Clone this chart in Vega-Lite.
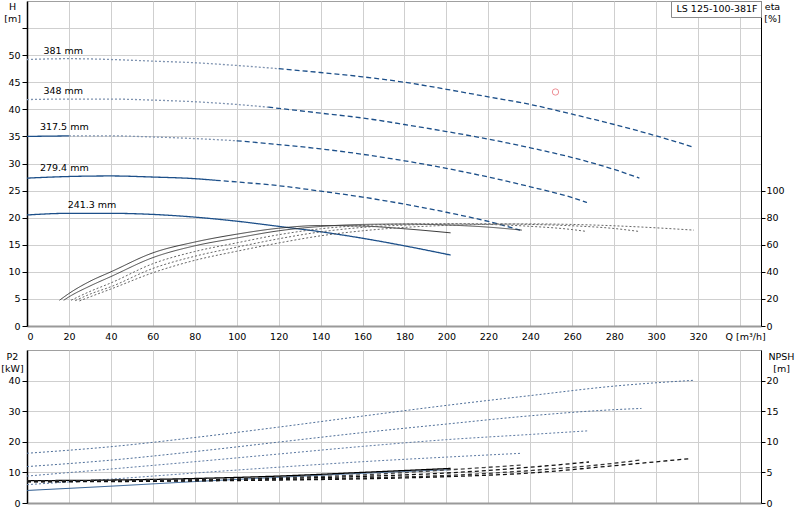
{
  "$schema": "https://vega.github.io/schema/vega-lite/v6.json",
  "padding": {"left": 0, "top": 0, "right": 0, "bottom": 0},
  "config": {
    "font": "DejaVu Sans",
    "view": {"stroke": "#a0a0a0"},
    "concat": {"spacing": 8},
    "axis": {
      "labelFont": "DejaVu Sans", "labelFontSize": 9.5, "labelColor": "#000", "labelOverlap": false,
      "titleFont": "DejaVu Sans", "titleFontSize": 9.5, "titleFontWeight": "normal", "titleColor": "#000",
      "gridColor": "#cfcfcf", "tickColor": "#000", "domainColor": "#000"
    }
  },
  "datasets": {
    "hq": [
      {"d": "381", "range": "mid", "Q": 0, "H": 49.2}, {"d": "381", "range": "mid", "Q": 20, "H": 49.35},
      {"d": "381", "range": "mid", "Q": 40, "H": 49.2}, {"d": "381", "range": "mid", "Q": 60, "H": 48.9},
      {"d": "381", "range": "mid", "Q": 80, "H": 48.6}, {"d": "381", "range": "mid", "Q": 100, "H": 48.1},
      {"d": "381", "range": "mid", "Q": 120, "H": 47.5},
      {"d": "381", "range": "high", "Q": 120, "H": 47.5}, {"d": "381", "range": "high", "Q": 140, "H": 46.8},
      {"d": "381", "range": "high", "Q": 160, "H": 46.0}, {"d": "381", "range": "high", "Q": 180, "H": 45.0},
      {"d": "381", "range": "high", "Q": 200, "H": 43.7}, {"d": "381", "range": "high", "Q": 220, "H": 42.3},
      {"d": "381", "range": "high", "Q": 240, "H": 40.9}, {"d": "381", "range": "high", "Q": 260, "H": 39.1},
      {"d": "381", "range": "high", "Q": 280, "H": 37.2}, {"d": "381", "range": "high", "Q": 300, "H": 35.1},
      {"d": "381", "range": "high", "Q": 318, "H": 33.0},
      {"d": "348", "range": "mid", "Q": 0, "H": 41.8}, {"d": "348", "range": "mid", "Q": 20, "H": 41.9},
      {"d": "348", "range": "mid", "Q": 40, "H": 41.9}, {"d": "348", "range": "mid", "Q": 60, "H": 41.7},
      {"d": "348", "range": "mid", "Q": 80, "H": 41.4}, {"d": "348", "range": "mid", "Q": 100, "H": 40.9},
      {"d": "348", "range": "mid", "Q": 115, "H": 40.4},
      {"d": "348", "range": "high", "Q": 115, "H": 40.4}, {"d": "348", "range": "high", "Q": 140, "H": 39.3},
      {"d": "348", "range": "high", "Q": 160, "H": 38.4}, {"d": "348", "range": "high", "Q": 180, "H": 37.2},
      {"d": "348", "range": "high", "Q": 200, "H": 35.9}, {"d": "348", "range": "high", "Q": 220, "H": 34.5},
      {"d": "348", "range": "high", "Q": 240, "H": 32.9}, {"d": "348", "range": "high", "Q": 260, "H": 31.1},
      {"d": "348", "range": "high", "Q": 280, "H": 28.9}, {"d": "348", "range": "high", "Q": 292, "H": 27.3},
      {"d": "317.5", "range": "low", "Q": 0, "H": 35.0}, {"d": "317.5", "range": "low", "Q": 20, "H": 35.1},
      {"d": "317.5", "range": "mid", "Q": 20, "H": 35.1}, {"d": "317.5", "range": "mid", "Q": 40, "H": 35.1},
      {"d": "317.5", "range": "mid", "Q": 60, "H": 34.9}, {"d": "317.5", "range": "mid", "Q": 80, "H": 34.6},
      {"d": "317.5", "range": "mid", "Q": 100, "H": 34.2},
      {"d": "317.5", "range": "high", "Q": 100, "H": 34.2}, {"d": "317.5", "range": "high", "Q": 120, "H": 33.5},
      {"d": "317.5", "range": "high", "Q": 140, "H": 32.7}, {"d": "317.5", "range": "high", "Q": 160, "H": 31.7},
      {"d": "317.5", "range": "high", "Q": 180, "H": 30.5}, {"d": "317.5", "range": "high", "Q": 200, "H": 29.1},
      {"d": "317.5", "range": "high", "Q": 220, "H": 27.5}, {"d": "317.5", "range": "high", "Q": 240, "H": 25.7},
      {"d": "317.5", "range": "high", "Q": 260, "H": 23.7}, {"d": "317.5", "range": "high", "Q": 267, "H": 22.8},
      {"d": "279.4", "range": "low", "Q": 0, "H": 27.3}, {"d": "279.4", "range": "low", "Q": 20, "H": 27.6},
      {"d": "279.4", "range": "low", "Q": 40, "H": 27.7}, {"d": "279.4", "range": "low", "Q": 60, "H": 27.5},
      {"d": "279.4", "range": "low", "Q": 80, "H": 27.2}, {"d": "279.4", "range": "low", "Q": 90, "H": 26.9},
      {"d": "279.4", "range": "high", "Q": 90, "H": 26.9}, {"d": "279.4", "range": "high", "Q": 100, "H": 26.6},
      {"d": "279.4", "range": "high", "Q": 120, "H": 25.9}, {"d": "279.4", "range": "high", "Q": 140, "H": 24.9},
      {"d": "279.4", "range": "high", "Q": 160, "H": 23.8}, {"d": "279.4", "range": "high", "Q": 180, "H": 22.5},
      {"d": "279.4", "range": "high", "Q": 200, "H": 21.0}, {"d": "279.4", "range": "high", "Q": 220, "H": 19.3},
      {"d": "279.4", "range": "high", "Q": 236, "H": 17.6},
      {"d": "241.3", "range": "low", "Q": 0, "H": 20.5}, {"d": "241.3", "range": "low", "Q": 20, "H": 20.8},
      {"d": "241.3", "range": "low", "Q": 40, "H": 20.8}, {"d": "241.3", "range": "low", "Q": 60, "H": 20.6},
      {"d": "241.3", "range": "low", "Q": 80, "H": 20.1}, {"d": "241.3", "range": "low", "Q": 100, "H": 19.35},
      {"d": "241.3", "range": "low", "Q": 120, "H": 18.4}, {"d": "241.3", "range": "low", "Q": 140, "H": 17.4},
      {"d": "241.3", "range": "low", "Q": 160, "H": 16.2}, {"d": "241.3", "range": "low", "Q": 180, "H": 14.8},
      {"d": "241.3", "range": "low", "Q": 202, "H": 13.1}
    ],
    "hqlabels": [
      {"name": "381 mm", "Q": 17.3, "H": 50.8},
      {"name": "348 mm", "Q": 17.3, "H": 43.4},
      {"name": "317.5 mm", "Q": 17.8, "H": 36.7},
      {"name": "279.4 mm", "Q": 17.8, "H": 29.2},
      {"name": "241.3 mm", "Q": 31, "H": 22.3}
    ],
    "duty": [
      {"pump": "LS 125-100-381F", "Q": 252, "H": 43.2}
    ],
    "eta": [
      {"d": "241.3", "Q": 15.5, "eta": 19}, {"d": "241.3", "Q": 20, "eta": 24}, {"d": "241.3", "Q": 30, "eta": 33},
      {"d": "241.3", "Q": 40, "eta": 40}, {"d": "241.3", "Q": 60, "eta": 54}, {"d": "241.3", "Q": 80, "eta": 62},
      {"d": "241.3", "Q": 100, "eta": 67.8}, {"d": "241.3", "Q": 120, "eta": 72.2}, {"d": "241.3", "Q": 140, "eta": 74.2},
      {"d": "241.3", "Q": 160, "eta": 73.8}, {"d": "241.3", "Q": 180, "eta": 71.8}, {"d": "241.3", "Q": 202, "eta": 68.8},
      {"d": "279.4", "Q": 17.5, "eta": 19}, {"d": "279.4", "Q": 20, "eta": 21.5}, {"d": "279.4", "Q": 30, "eta": 29.5},
      {"d": "279.4", "Q": 40, "eta": 36.5}, {"d": "279.4", "Q": 60, "eta": 50.5}, {"d": "279.4", "Q": 80, "eta": 59.2},
      {"d": "279.4", "Q": 100, "eta": 65}, {"d": "279.4", "Q": 120, "eta": 70.3}, {"d": "279.4", "Q": 140, "eta": 73.5},
      {"d": "279.4", "Q": 160, "eta": 75}, {"d": "279.4", "Q": 180, "eta": 75.3}, {"d": "279.4", "Q": 200, "eta": 74.6},
      {"d": "279.4", "Q": 220, "eta": 73}, {"d": "279.4", "Q": 236, "eta": 70.8},
      {"d": "317.5", "Q": 21, "eta": 19}, {"d": "317.5", "Q": 30, "eta": 25.5}, {"d": "317.5", "Q": 40, "eta": 31.8},
      {"d": "317.5", "Q": 60, "eta": 46}, {"d": "317.5", "Q": 80, "eta": 55}, {"d": "317.5", "Q": 100, "eta": 61.4},
      {"d": "317.5", "Q": 120, "eta": 67.4}, {"d": "317.5", "Q": 140, "eta": 71.8}, {"d": "317.5", "Q": 160, "eta": 74.2},
      {"d": "317.5", "Q": 180, "eta": 75.3}, {"d": "317.5", "Q": 200, "eta": 75.5}, {"d": "317.5", "Q": 220, "eta": 75},
      {"d": "317.5", "Q": 240, "eta": 73.6}, {"d": "317.5", "Q": 260, "eta": 71.2}, {"d": "317.5", "Q": 267, "eta": 69.8},
      {"d": "348", "Q": 23, "eta": 18.7}, {"d": "348", "Q": 30, "eta": 23.5}, {"d": "348", "Q": 40, "eta": 29},
      {"d": "348", "Q": 60, "eta": 42.5}, {"d": "348", "Q": 80, "eta": 51.5}, {"d": "348", "Q": 100, "eta": 58.2},
      {"d": "348", "Q": 120, "eta": 64.4}, {"d": "348", "Q": 140, "eta": 69.5}, {"d": "348", "Q": 160, "eta": 72.8},
      {"d": "348", "Q": 180, "eta": 74.5}, {"d": "348", "Q": 200, "eta": 75.3}, {"d": "348", "Q": 220, "eta": 75.5},
      {"d": "348", "Q": 240, "eta": 75}, {"d": "348", "Q": 260, "eta": 74}, {"d": "348", "Q": 280, "eta": 72},
      {"d": "348", "Q": 292, "eta": 69.8},
      {"d": "381", "Q": 25, "eta": 18.5}, {"d": "381", "Q": 30, "eta": 21.5}, {"d": "381", "Q": 40, "eta": 27.3},
      {"d": "381", "Q": 60, "eta": 39.3}, {"d": "381", "Q": 80, "eta": 48.5}, {"d": "381", "Q": 100, "eta": 55.2},
      {"d": "381", "Q": 120, "eta": 61.3}, {"d": "381", "Q": 140, "eta": 66.6}, {"d": "381", "Q": 160, "eta": 70.3},
      {"d": "381", "Q": 180, "eta": 72.8}, {"d": "381", "Q": 200, "eta": 74.3}, {"d": "381", "Q": 220, "eta": 75.1},
      {"d": "381", "Q": 240, "eta": 75.4}, {"d": "381", "Q": 260, "eta": 75}, {"d": "381", "Q": 280, "eta": 74},
      {"d": "381", "Q": 300, "eta": 72.5}, {"d": "381", "Q": 318, "eta": 70.8}
    ],
    "p2": [
      {"d": "381", "Q": 0, "P2": 16.25}, {"d": "381", "Q": 40, "P2": 18.4}, {"d": "381", "Q": 80, "P2": 21.4},
      {"d": "381", "Q": 120, "P2": 24.8}, {"d": "381", "Q": 160, "P2": 28.4}, {"d": "381", "Q": 200, "P2": 31.9},
      {"d": "381", "Q": 240, "P2": 35.1}, {"d": "381", "Q": 280, "P2": 38.2}, {"d": "381", "Q": 318, "P2": 40.1},
      {"d": "348", "Q": 0, "P2": 11.9}, {"d": "348", "Q": 40, "P2": 14.0}, {"d": "348", "Q": 80, "P2": 16.8},
      {"d": "348", "Q": 120, "P2": 19.9}, {"d": "348", "Q": 160, "P2": 23.0}, {"d": "348", "Q": 200, "P2": 25.8},
      {"d": "348", "Q": 240, "P2": 28.5}, {"d": "348", "Q": 280, "P2": 30.5}, {"d": "348", "Q": 293, "P2": 30.9},
      {"d": "317.5", "Q": 0, "P2": 8.8}, {"d": "317.5", "Q": 40, "P2": 11.1}, {"d": "317.5", "Q": 80, "P2": 13.5},
      {"d": "317.5", "Q": 120, "P2": 16.0}, {"d": "317.5", "Q": 160, "P2": 18.5}, {"d": "317.5", "Q": 200, "P2": 20.7},
      {"d": "317.5", "Q": 240, "P2": 22.4}, {"d": "317.5", "Q": 268, "P2": 23.6},
      {"d": "279.4", "Q": 0, "P2": 6.0}, {"d": "279.4", "Q": 40, "P2": 7.8}, {"d": "279.4", "Q": 80, "P2": 9.8},
      {"d": "279.4", "Q": 120, "P2": 11.7}, {"d": "279.4", "Q": 160, "P2": 13.5}, {"d": "279.4", "Q": 200, "P2": 15.0},
      {"d": "279.4", "Q": 236, "P2": 16.25},
      {"d": "241.3", "Q": 0, "P2": 4.1}, {"d": "241.3", "Q": 40, "P2": 5.5}, {"d": "241.3", "Q": 80, "P2": 7.0},
      {"d": "241.3", "Q": 120, "P2": 8.4}, {"d": "241.3", "Q": 160, "P2": 9.7}, {"d": "241.3", "Q": 202, "P2": 10.9}
    ],
    "npsh": [
      {"d": "241.3", "Q": 0, "NPSH": 3.65}, {"d": "241.3", "Q": 40, "NPSH": 3.75}, {"d": "241.3", "Q": 80, "NPSH": 4.0},
      {"d": "241.3", "Q": 120, "NPSH": 4.4}, {"d": "241.3", "Q": 160, "NPSH": 5.0}, {"d": "241.3", "Q": 202, "NPSH": 5.65},
      {"d": "279.4", "Q": 0, "NPSH": 3.6}, {"d": "279.4", "Q": 40, "NPSH": 3.7}, {"d": "279.4", "Q": 80, "NPSH": 3.85},
      {"d": "279.4", "Q": 120, "NPSH": 4.15}, {"d": "279.4", "Q": 160, "NPSH": 4.6}, {"d": "279.4", "Q": 200, "NPSH": 5.4},
      {"d": "279.4", "Q": 236, "NPSH": 6.2},
      {"d": "317.5", "Q": 0, "NPSH": 3.55}, {"d": "317.5", "Q": 40, "NPSH": 3.6}, {"d": "317.5", "Q": 80, "NPSH": 3.75},
      {"d": "317.5", "Q": 120, "NPSH": 4.0}, {"d": "317.5", "Q": 160, "NPSH": 4.35}, {"d": "317.5", "Q": 200, "NPSH": 4.9},
      {"d": "317.5", "Q": 240, "NPSH": 5.85}, {"d": "317.5", "Q": 268, "NPSH": 6.7},
      {"d": "348", "Q": 0, "NPSH": 3.5}, {"d": "348", "Q": 40, "NPSH": 3.55}, {"d": "348", "Q": 80, "NPSH": 3.65},
      {"d": "348", "Q": 120, "NPSH": 3.85}, {"d": "348", "Q": 160, "NPSH": 4.1}, {"d": "348", "Q": 200, "NPSH": 4.5},
      {"d": "348", "Q": 240, "NPSH": 5.3}, {"d": "348", "Q": 280, "NPSH": 6.5}, {"d": "348", "Q": 292, "NPSH": 7.0},
      {"d": "381", "Q": 0, "NPSH": 3.45}, {"d": "381", "Q": 40, "NPSH": 3.5}, {"d": "381", "Q": 80, "NPSH": 3.6},
      {"d": "381", "Q": 120, "NPSH": 3.75}, {"d": "381", "Q": 160, "NPSH": 3.95}, {"d": "381", "Q": 200, "NPSH": 4.3},
      {"d": "381", "Q": 240, "NPSH": 4.9}, {"d": "381", "Q": 280, "NPSH": 6.1}, {"d": "381", "Q": 316, "NPSH": 7.25}
    ]
  },
  "vconcat": [
    {
      "width": 734,
      "height": 325,
      "layer": [
        {
          "layer": [
            {
              "data": {"name": "hq"},
              "mark": {"type": "line", "interpolate": "monotone", "strokeWidth": 1.3},
              "encoding": {
                "x": {
                  "field": "Q", "type": "quantitative",
                  "scale": {"domain": [0, 350], "nice": false},
                  "axis": {
                    "values": [0, 20, 40, 60, 80, 100, 120, 140, 160, 180, 200, 220, 240, 260, 280, 300, 320, 340],
                    "labelExpr": "datum.value > 320 ? '' : datum.label",
                    "ticks": false, "labelPadding": 5,
                    "domainColor": "#9a9a9a", "domainWidth": 2,
                    "title": "Q [m³/h]", "titleAlign": "left", "titleBaseline": "top",
                    "titleX": 698, "titleY": 5
                  }
                },
                "y": {
                  "field": "H", "type": "quantitative",
                  "scale": {"domain": [0, 60], "nice": false},
                  "axis": {
                    "values": [0, 5, 10, 15, 20, 25, 30, 35, 40, 45, 50, 55],
                    "labelExpr": "datum.value > 50 ? '' : datum.label",
                    "tickSize": 5, "labelPadding": 2, "domainWidth": 1.5,
                    "title": ["H", "[m]"], "titleAngle": 0, "titleAlign": "center", "titleBaseline": "top",
                    "titleX": -15, "titleY": 0, "titleLineHeight": 12
                  }
                },
                "detail": {"field": "d"},
                "stroke": {
                  "field": "range", "type": "nominal",
                  "scale": {"domain": ["low", "mid", "high"], "range": ["#1c4f89", "#7f93b0", "#1c4f89"]},
                  "legend": null
                },
                "strokeDash": {
                  "field": "range", "type": "nominal",
                  "scale": {"domain": ["low", "mid", "high"], "range": [[1, 0], [2, 2], [5, 3]]},
                  "legend": null
                }
              }
            },
            {
              "data": {"name": "hqlabels"},
              "mark": {"type": "text", "font": "DejaVu Sans", "fontSize": 9.5, "color": "#000"},
              "encoding": {
                "x": {"field": "Q", "type": "quantitative", "scale": {"domain": [0, 350], "nice": false}},
                "y": {
                  "field": "H", "type": "quantitative",
                  "scale": {"domain": [0, 60], "nice": false},
                  "axis": {
                    "values": [0, 5, 10, 15, 20, 25, 30, 35, 40, 45, 50, 55],
                    "labelExpr": "datum.value > 50 ? '' : datum.label",
                    "tickSize": 5, "labelPadding": 2, "domainWidth": 1.5,
                    "title": ["H", "[m]"], "titleAngle": 0, "titleAlign": "center", "titleBaseline": "top",
                    "titleX": -15, "titleY": 0, "titleLineHeight": 12
                  }
                },
                "text": {"field": "name"}
              }
            },
            {
              "data": {"name": "duty"},
              "mark": {"type": "point", "filled": false, "size": 40, "strokeWidth": 1},
              "encoding": {
                "x": {"field": "Q", "type": "quantitative", "scale": {"domain": [0, 350], "nice": false}},
                "y": {
                  "field": "H", "type": "quantitative",
                  "scale": {"domain": [0, 60], "nice": false},
                  "axis": {
                    "values": [0, 5, 10, 15, 20, 25, 30, 35, 40, 45, 50, 55],
                    "labelExpr": "datum.value > 50 ? '' : datum.label",
                    "tickSize": 5, "labelPadding": 2, "domainWidth": 1.5,
                    "title": ["H", "[m]"], "titleAngle": 0, "titleAlign": "center", "titleBaseline": "top",
                    "titleX": -15, "titleY": 0, "titleLineHeight": 12
                  }
                },
                "color": {
                  "field": "pump", "type": "nominal",
                  "scale": {"range": ["#e8606a"]},
                  "legend": {
                    "orient": "top-right", "offset": 0, "title": null,
                    "strokeColor": "#8a8a8a", "fillColor": "#ffffff", "padding": 3,
                    "symbolSize": 0.01, "symbolStrokeWidth": 0, "labelOffset": -7,
                    "labelFont": "DejaVu Sans", "labelFontSize": 9.5, "labelColor": "#000"
                  }
                }
              }
            }
          ],
          "resolve": {"scale": {"y": "shared"}, "axis": {"y": "shared"}}
        },
        {
          "data": {"name": "eta"},
          "mark": {"type": "line", "interpolate": "monotone", "strokeWidth": 0.9},
          "encoding": {
            "x": {"field": "Q", "type": "quantitative", "scale": {"domain": [0, 350], "nice": false}},
            "y": {
              "field": "eta", "type": "quantitative",
              "scale": {"domain": [0, 240], "nice": false},
              "axis": {
                "orient": "right", "grid": false,
                "values": [0, 20, 40, 60, 80, 100],
                "tickSize": 4, "labelPadding": 1,
                "title": ["eta", "[%]"], "titleAngle": 0, "titleAlign": "center", "titleBaseline": "top",
                "titleX": 11, "titleY": 0, "titleLineHeight": 12
              }
            },
            "detail": {"field": "d"},
            "stroke": {
              "field": "d", "type": "nominal",
              "scale": {"domain": ["241.3", "279.4", "317.5", "348", "381"], "range": ["#222222", "#333333", "#555555", "#555555", "#555555"]},
              "legend": null
            },
            "strokeDash": {
              "field": "d", "type": "nominal",
              "scale": {"domain": ["241.3", "279.4", "317.5", "348", "381"], "range": [[1, 0], [1, 0], [2, 2], [2, 2], [2, 2]]},
              "legend": null
            }
          }
        }
      ],
      "resolve": {"scale": {"y": "independent", "stroke": "independent", "strokeDash": "independent"}}
    },
    {
      "width": 734,
      "height": 153,
      "layer": [
        {
          "data": {"name": "p2"},
          "mark": {"type": "line", "interpolate": "monotone", "strokeWidth": 1},
          "encoding": {
            "x": {
              "field": "Q", "type": "quantitative",
              "scale": {"domain": [0, 350], "nice": false},
              "axis": {
                "values": [0, 20, 40, 60, 80, 100, 120, 140, 160, 180, 200, 220, 240, 260, 280, 300, 320, 340],
                "labels": false, "ticks": false, "title": null,
                "domainColor": "#9a9a9a", "domainWidth": 2
              }
            },
            "y": {
              "field": "P2", "type": "quantitative",
              "scale": {"domain": [0, 50], "nice": false},
              "axis": {
                "values": [0, 10, 20, 30, 40],
                "tickSize": 5, "labelPadding": 2, "domainWidth": 1.5,
                "title": ["P2", "[kW]"], "titleAngle": 0, "titleAlign": "center", "titleBaseline": "top",
                "titleX": -15, "titleY": 1, "titleLineHeight": 12
              }
            },
            "detail": {"field": "d"},
            "stroke": {
              "field": "d", "type": "nominal",
              "scale": {"domain": ["241.3", "279.4", "317.5", "348", "381"], "range": ["#2d5b90", "#5d7aa3", "#5d7aa3", "#4f6f99", "#4f6f99"]},
              "legend": null
            },
            "strokeDash": {
              "field": "d", "type": "nominal",
              "scale": {"domain": ["241.3", "279.4", "317.5", "348", "381"], "range": [[1, 0], [2, 2], [2, 2], [2, 2], [2, 2]]},
              "legend": null
            }
          }
        },
        {
          "data": {"name": "npsh"},
          "mark": {"type": "line", "interpolate": "monotone", "strokeWidth": 1.3},
          "encoding": {
            "x": {"field": "Q", "type": "quantitative", "scale": {"domain": [0, 350], "nice": false}},
            "y": {
              "field": "NPSH", "type": "quantitative",
              "scale": {"domain": [0, 25], "nice": false},
              "axis": {
                "orient": "right", "grid": false,
                "values": [0, 5, 10, 15, 20],
                "tickSize": 4, "labelPadding": 1,
                "title": ["NPSH", "[m]"], "titleAngle": 0, "titleAlign": "center", "titleBaseline": "top",
                "titleX": 20, "titleY": 1, "titleLineHeight": 12
              }
            },
            "detail": {"field": "d"},
            "stroke": {
              "field": "d", "type": "nominal",
              "scale": {"domain": ["241.3", "279.4", "317.5", "348", "381"], "range": ["#000000", "#444444", "#111111", "#333333", "#111111"]},
              "legend": null
            },
            "strokeDash": {
              "field": "d", "type": "nominal",
              "scale": {"domain": ["241.3", "279.4", "317.5", "348", "381"], "range": [[1, 0], [4, 3], [4, 3], [4, 3], [4, 3]]},
              "legend": null
            }
          }
        }
      ],
      "resolve": {"scale": {"y": "independent", "stroke": "independent", "strokeDash": "independent"}}
    }
  ]
}
